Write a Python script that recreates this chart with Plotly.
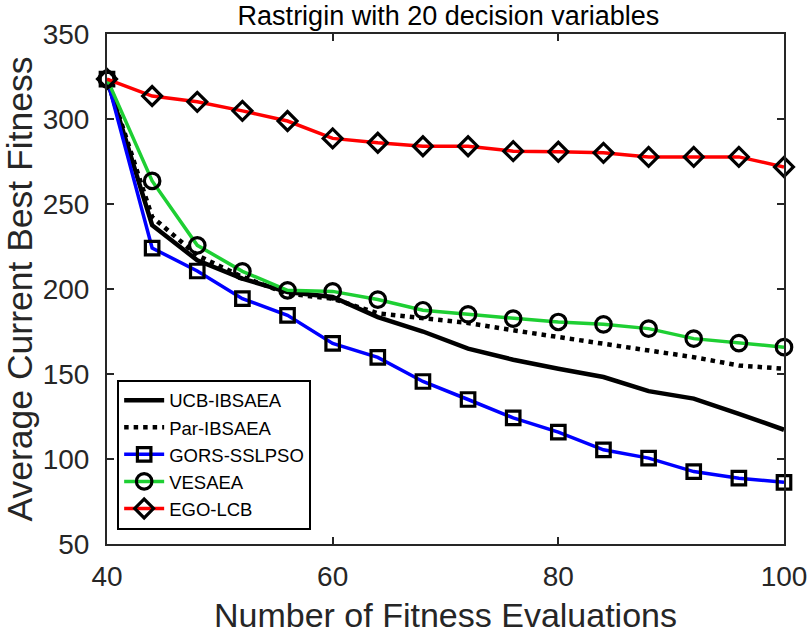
import plotly.graph_objects as go

evals = [40, 44, 48, 52, 56, 60, 64, 68, 72, 76, 80, 84, 88, 92, 96, 100]
ucb_ibsaea = [323.5, 237.5, 216.9, 206.1, 198.2, 195.3, 183.5, 175.0, 164.9, 158.4, 153.1, 148.2, 139.9, 135.5, 126.6, 117.2]
par_ibsaea = [323.5, 242.4, 219.8, 207.1, 197.3, 194.3, 185.7, 182.6, 180.0, 175.7, 171.7, 167.8, 163.9, 159.9, 155.0, 153.1]
gors_sslpso = [323.5, 224.1, 210.6, 194.3, 184.5, 168.0, 159.8, 145.6, 135.0, 124.2, 115.8, 105.4, 100.5, 92.6, 88.7, 86.3]
vesaea = [323.5, 263.6, 225.7, 210.4, 199.2, 198.6, 193.8, 187.5, 185.1, 182.6, 180.6, 179.2, 176.7, 170.8, 168.2, 165.8]
ego_lcb = [323.5, 313.5, 310.1, 304.8, 298.8, 288.6, 286.0, 284.0, 284.0, 281.1, 280.7, 280.1, 277.7, 277.7, 277.7, 271.8]

x_ticks = [40, 60, 80, 100]
y_ticks = [50, 100, 150, 200, 250, 300, 350]

FONT = "Liberation Sans, Arial, Helvetica, sans-serif"
AX = "#262626"

fig = go.Figure()
fig.add_trace(go.Scatter(x=evals, y=ucb_ibsaea, name="UCB-IBSAEA", mode="lines", cliponaxis=False,
                         line=dict(color="black", width=4.5)))
fig.add_trace(go.Scatter(x=evals, y=par_ibsaea, name="Par-IBSAEA", mode="lines", cliponaxis=False,
                         line=dict(color="black", width=4.5, dash="4.5px,5px")))
fig.add_trace(go.Scatter(x=evals, y=gors_sslpso, name="GORS-SSLPSO", mode="lines+markers", cliponaxis=False,
                         line=dict(color="#0000ff", width=3.5),
                         marker=dict(symbol="square-open", size=13.5, color="black", line=dict(width=3.2))))
fig.add_trace(go.Scatter(x=evals, y=vesaea, name="VESAEA", mode="lines+markers", cliponaxis=False,
                         line=dict(color="#1ecf33", width=3.5),
                         marker=dict(symbol="circle-open", size=15.5, color="black", line=dict(width=3.2))))
fig.add_trace(go.Scatter(x=evals, y=ego_lcb, name="EGO-LCB", mode="lines+markers", cliponaxis=False,
                         line=dict(color="#ff0000", width=3.5),
                         marker=dict(symbol="diamond-open", size=14.5, color="black", line=dict(width=3.2))))

fig.update_layout(
    width=811, height=634,
    margin=dict(l=107, r=27, t=34, b=90),
    paper_bgcolor="white", plot_bgcolor="white",
    font=dict(family=FONT, color=AX),
    title=dict(text="Rastrigin with 20 decision variables", x=0.553, xanchor="center",
               y=0.975, yanchor="middle", font=dict(size=27, color="black", family=FONT)),
    showlegend=True,
    legend=dict(x=0.015, y=0.028, xanchor="left", yanchor="bottom",
                bgcolor="white", bordercolor="black", borderwidth=2,
                font=dict(size=18.5, color="black", family=FONT), itemwidth=40),
)
fig.update_xaxes(range=[40, 100], tickvals=x_ticks, ticktext=[str(v) for v in x_ticks],
                 showgrid=False, zeroline=False, showline=True, linecolor=AX, linewidth=2,
                 mirror="ticks", ticks="inside", ticklen=7, tickwidth=1.5, tickcolor=AX,
                 tickfont=dict(size=28, color=AX, family=FONT), ticklabelstandoff=6,
                 automargin=False,
                 title=dict(text="Number of Fitness Evaluations", standoff=15,
                            font=dict(size=34, color=AX, family=FONT)))
fig.update_yaxes(range=[50, 350], tickvals=y_ticks, ticktext=[str(v) for v in y_ticks],
                 showgrid=False, zeroline=False, showline=True, linecolor=AX, linewidth=2,
                 mirror="ticks", ticks="inside", ticklen=7, tickwidth=1.5, tickcolor=AX,
                 tickfont=dict(size=28, color=AX, family=FONT), ticklabelstandoff=10,
                 automargin=False,
                 title=dict(text="Average Current Best Fitness", standoff=10,
                            font=dict(size=35.5, color=AX, family=FONT)))

fig.write_html("out.html")
